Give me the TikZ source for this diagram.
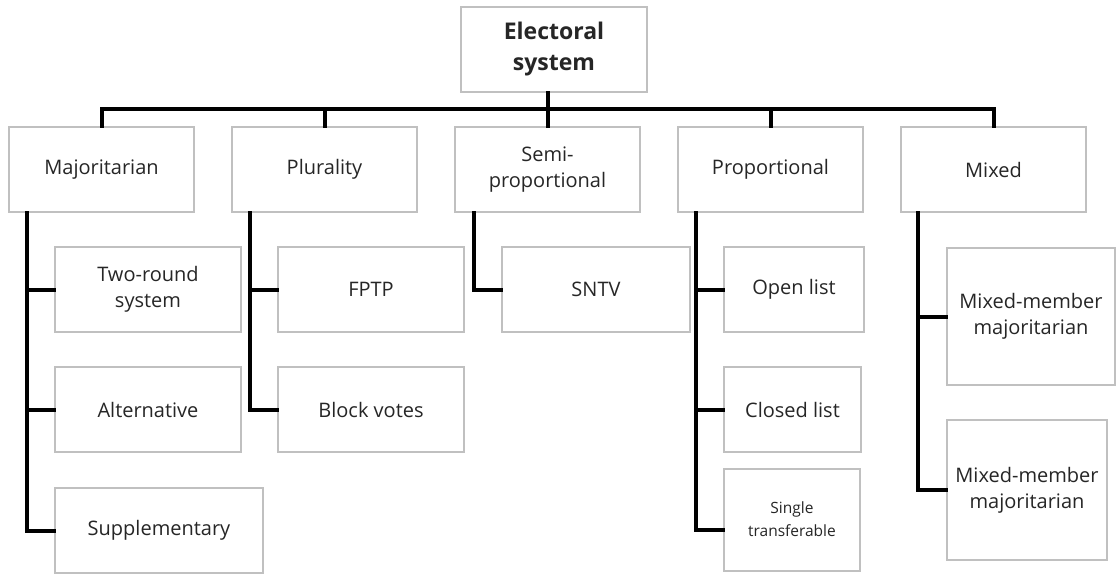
\documentclass[tikz,border=0pt]{standalone}
\usepackage{fontspec}
\setmainfont{Open Sans}
\definecolor{boxline}{RGB}{192,192,192}
\definecolor{txt}{RGB}{38,38,38}
\begin{document}
\begin{tikzpicture}[x=1pt,y=-1pt,
  box/.style={draw=boxline, line width=1.1pt, fill=white, rectangle,
    inner sep=2pt, align=center, text=txt, font=\fontsize{20}{26}\selectfont},
  smallbox/.style={box, font=\fontsize{15.5}{23}\selectfont},
  conn/.style={draw=black, line width=4pt, line join=miter, line cap=rect}]
\useasboundingbox (0,0) rectangle (1116,574);

% root and first level
\node[box, minimum width=186pt, minimum height=85pt, font=\bfseries\fontsize{23}{31}\selectfont]
  (root) at (554,49.5) {Electoral\\system};
\foreach \n/\x/\t in {maj/101.5/Majoritarian, plu/324.5/Plurality,
    semi/547.5/{Semi-\\proportional}, pro/770.5/Proportional, mix/993.5/Mixed}
  \node[box, minimum width=185pt, minimum height=85pt] (\n) at (\x,169.5) {\t};

% second level
\node[box, minimum width=186pt, minimum height=85pt] (two) at (148,289.5) {Two-round\\system};
\node[box, minimum width=186pt, minimum height=85pt] (alt) at (148,409.5) {Alternative};
\node[box, minimum width=208pt, minimum height=85pt] (sup) at (159,530.5) {Supplementary};
\node[box, minimum width=186pt, minimum height=85pt] (fptp) at (371,289.5) {FPTP};
\node[box, minimum width=186pt, minimum height=85pt] (blk) at (371,409.5) {Block votes};
\node[box, minimum width=188pt, minimum height=85pt] (sntv) at (596,289.5) {SNTV};
\node[box, minimum width=140pt, minimum height=85pt] (open) at (794,289.5) {Open list};
\node[box, minimum width=137pt, minimum height=85pt] (closed) at (792.5,409.5) {Closed list};
\node[smallbox, minimum width=136pt, minimum height=102pt] (stv) at (792,520)
  {\raisebox{6pt}{\begin{tabular}{@{}c@{}}Single\\transferable\end{tabular}}};
\node[box, minimum width=168pt, minimum height=137pt] (mmma) at (1031,316.5) {Mixed-member\\majoritarian};
\node[box, minimum width=160pt, minimum height=140pt] (mmmb) at (1027,490) {Mixed-member\\majoritarian};

% top bar
\coordinate (bar) at (0,109);
\draw[conn] (root.south -| semi.north) -- (semi.north);
\draw[conn] (maj.north) -- (maj.north |- bar) -- (mix.north |- bar) -- (mix.north);
\draw[conn] (plu.north) -- (plu.north |- bar);
\draw[conn] (pro.north) -- (pro.north |- bar);

% spines under the first level
\coordinate (majs) at ([xshift=19pt]maj.south west);
\coordinate (plus) at ([xshift=19pt]plu.south west);
\coordinate (semis) at ([xshift=20pt]semi.south west);
\coordinate (pros) at ([xshift=19pt]pro.south west);
\coordinate (mixs) at ([xshift=18pt]mix.south west);

\draw[conn] (majs) |- (sup.west);
\draw[conn] (majs |- two.west) -- (two.west);
\draw[conn] (majs |- alt.west) -- (alt.west);

\draw[conn] (plus) |- (blk.west);
\draw[conn] (plus |- fptp.west) -- (fptp.west);

\draw[conn] (semis) |- (sntv.west);

\coordinate (stvin) at ([yshift=-10pt]stv.west);
\draw[conn] (pros) |- (stvin);
\draw[conn] (pros |- open.west) -- (open.west);
\draw[conn] (pros |- closed.west) -- (closed.west);

\draw[conn] (mixs) |- (mmmb.west);
\draw[conn] (mixs |- mmma.west) -- (mmma.west);
\end{tikzpicture}
\end{document}
